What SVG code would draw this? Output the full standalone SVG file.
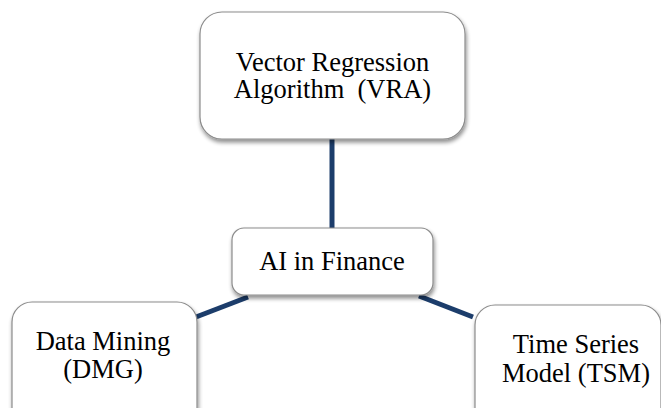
<svg xmlns="http://www.w3.org/2000/svg" width="661" height="408" viewBox="0 0 661 408">
  <defs>
    <filter id="shadow" x="-10%" y="-10%" width="125%" height="130%">
      <feGaussianBlur in="SourceAlpha" stdDeviation="2"/>
      <feOffset dx="1" dy="3" result="off"/>
      <feComponentTransfer><feFuncA type="linear" slope="0.45"/></feComponentTransfer>
      <feMerge><feMergeNode/><feMergeNode in="SourceGraphic"/></feMerge>
    </filter>
  </defs>
  <style>
    .box { fill: #ffffff; stroke: #8c8c8c; stroke-width: 1.2; filter: url(#shadow); }
    .label { font-family: "Liberation Serif", "Times New Roman", serif; font-size: 26.5px; fill: #000000; text-anchor: middle; }
    .link { stroke: #1c3d6b; stroke-width: 5; fill: none; }
  </style>
  <rect width="661" height="408" fill="#ffffff"/>

  <g id="connectors">
    <line class="link" x1="332" y1="139" x2="332" y2="228"/>
    <line class="link" x1="248" y1="297" x2="196" y2="317"/>
    <line class="link" x1="419" y1="296" x2="473" y2="317"/>
  </g>

  <g id="node-vra">
    <rect class="box" x="200" y="12" width="265" height="127" rx="22"/>
    <text class="label" x="332.5" y="71">Vector Regression</text>
    <text class="label" x="332.5" y="98">Algorithm&#160; (VRA)</text>
  </g>

  <g id="node-ai">
    <rect class="box" x="232" y="228" width="201" height="67" rx="12"/>
    <text class="label" x="332" y="270">AI in Finance</text>
  </g>

  <g id="node-dmg">
    <rect class="box" x="12" y="302" width="185" height="130" rx="20"/>
    <text class="label" x="103" y="350">Data Mining</text>
    <text class="label" x="103" y="378">(DMG)</text>
  </g>

  <g id="node-tsm">
    <rect class="box" x="475" y="305" width="186" height="130" rx="20"/>
    <text class="label" x="576" y="353">Time Series</text>
    <text class="label" x="576" y="382">Model (TSM)</text>
  </g>
</svg>
